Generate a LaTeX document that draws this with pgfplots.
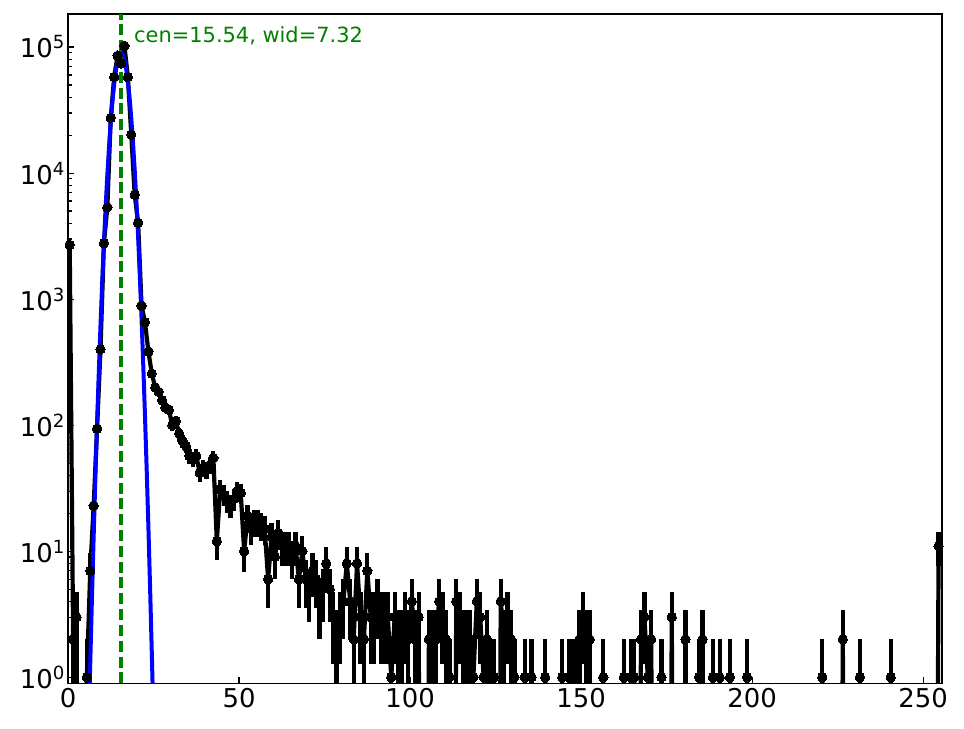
\documentclass[border=0pt]{standalone}
\usepackage{fontspec}
\setmainfont{DejaVu Sans}
\usepackage{pgfplots}
\pgfplotsset{compat=1.18}
\usepackage{pgfplotstable}
\definecolor{mplgreen}{rgb}{0,0.5,0}
\definecolor{mplblue}{rgb}{0,0,1}

\pgfplotstableread[row sep=\\]{
x n \\
0.5 2700 \\ 1.5 2 \\ 2.5 3 \\ 3.5 0 \\ 4.5 0 \\ 5.5 1 \\ 6.5 7 \\ 7.5 23 \\ 8.5 94 \\ 9.5 400 \\
10.5 2780 \\ 11.5 5350 \\ 12.5 27500 \\ 13.5 58000 \\ 14.5 85500 \\ 15.5 74300 \\ 16.5 102000 \\ 17.5 57800 \\ 18.5 20200 \\ 19.5 6740 \\
20.5 4040 \\ 21.5 888 \\ 22.5 655 \\ 23.5 385 \\ 24.5 257 \\ 25.5 199 \\ 26.5 184 \\ 27.5 158 \\ 28.5 138 \\ 29.5 132 \\
30.5 100 \\ 31.5 108 \\ 32.5 86 \\ 33.5 75 \\ 34.5 68 \\ 35.5 57 \\ 36.5 54 \\ 37.5 57 \\ 38.5 42 \\ 39.5 46 \\
40.5 44 \\ 41.5 48 \\ 42.5 55 \\ 43.5 12 \\ 44.5 31 \\ 45.5 28 \\ 46.5 25 \\ 47.5 23 \\ 48.5 26 \\ 49.5 30 \\
50.5 29 \\ 51.5 10 \\ 52.5 19 \\ 53.5 15 \\ 54.5 17 \\ 55.5 17 \\ 56.5 16 \\ 57.5 15 \\ 58.5 6 \\ 59.5 13 \\
60.5 9 \\ 61.5 14 \\ 62.5 11 \\ 63.5 11 \\ 64.5 11 \\ 65.5 9 \\ 66.5 11 \\ 67.5 6 \\ 68.5 10 \\ 69.5 6 \\
70.5 5 \\ 71.5 7 \\ 72.5 6 \\ 73.5 4 \\ 74.5 5 \\ 75.5 8 \\ 76.5 5 \\ 77.5 3 \\ 78.5 2 \\ 79.5 3 \\
80.5 4 \\ 81.5 8 \\ 82.5 4 \\ 83.5 2 \\ 84.5 8 \\ 85.5 3 \\ 86.5 2 \\ 87.5 7 \\ 88.5 3 \\ 89.5 3 \\
90.5 4 \\ 91.5 3 \\ 92.5 3 \\ 93.5 3 \\ 94.5 1 \\ 95.5 3 \\ 96.5 2 \\ 97.5 2 \\ 98.5 3 \\ 99.5 2 \\
100.5 4 \\ 101.5 2 \\ 102.5 3 \\ 103.5 0 \\ 104.5 0 \\ 105.5 2 \\ 106.5 2 \\ 107.5 2 \\ 108.5 4 \\ 109.5 3 \\
110.5 2 \\ 111.5 1 \\ 112.5 0 \\ 113.5 4 \\ 114.5 3 \\ 115.5 2 \\ 116.5 2 \\ 117.5 2 \\ 118.5 1 \\ 119.5 4 \\
120.5 3 \\ 121.5 1 \\ 122.5 2 \\ 123.5 1 \\ 124.5 1 \\ 125.5 0 \\ 126.5 4 \\ 127.5 2 \\ 128.5 3 \\ 129.5 2 \\
130.5 1 \\ 131.5 0 \\ 132.5 0 \\ 133.5 1 \\ 134.5 0 \\ 135.5 1 \\ 136.5 0 \\ 137.5 0 \\ 138.5 0 \\ 139.5 1 \\
140.5 0 \\ 141.5 0 \\ 142.5 0 \\ 143.5 0 \\ 144.5 1 \\ 145.5 0 \\ 146.5 1 \\ 147.5 1 \\ 148.5 1 \\ 149.5 2 \\
150.5 3 \\ 151.5 2 \\ 152.5 2 \\ 153.5 0 \\ 154.5 0 \\ 155.5 0 \\ 156.5 1 \\ 157.5 0 \\ 158.5 0 \\ 159.5 0 \\
160.5 0 \\ 161.5 0 \\ 162.5 1 \\ 163.5 0 \\ 164.5 1 \\ 165.5 1 \\ 166.5 0 \\ 167.5 2 \\ 168.5 3 \\ 169.5 1 \\
170.5 2 \\ 171.5 0 \\ 172.5 0 \\ 173.5 1 \\ 174.5 0 \\ 175.5 0 \\ 176.5 3 \\ 177.5 0 \\ 178.5 0 \\ 179.5 0 \\
180.5 2 \\ 181.5 0 \\ 182.5 0 \\ 183.5 0 \\ 184.5 1 \\ 185.5 2 \\ 186.5 0 \\ 187.5 0 \\ 188.5 1 \\ 189.5 0 \\
190.5 1 \\ 191.5 0 \\ 192.5 0 \\ 193.5 1 \\ 194.5 0 \\ 195.5 0 \\ 196.5 0 \\ 197.5 0 \\ 198.5 1 \\ 199.5 0 \\
200.5 0 \\ 201.5 0 \\ 202.5 0 \\ 203.5 0 \\ 204.5 0 \\ 205.5 0 \\ 206.5 0 \\ 207.5 0 \\ 208.5 0 \\ 209.5 0 \\
210.5 0 \\ 211.5 0 \\ 212.5 0 \\ 213.5 0 \\ 214.5 0 \\ 215.5 0 \\ 216.5 0 \\ 217.5 0 \\ 218.5 0 \\ 219.5 0 \\
220.5 1 \\ 221.5 0 \\ 222.5 0 \\ 223.5 0 \\ 224.5 0 \\ 225.5 0 \\ 226.5 2 \\ 227.5 0 \\ 228.5 0 \\ 229.5 0 \\
230.5 0 \\ 231.5 1 \\ 232.5 0 \\ 233.5 0 \\ 234.5 0 \\ 235.5 0 \\ 236.5 0 \\ 237.5 0 \\ 238.5 0 \\ 239.5 0 \\
240.5 1 \\ 241.5 0 \\ 242.5 0 \\ 243.5 0 \\ 244.5 0 \\ 245.5 0 \\ 246.5 0 \\ 247.5 0 \\ 248.5 0 \\ 249.5 0 \\
250.5 0 \\ 251.5 0 \\ 252.5 0 \\ 253.5 0 \\ 254.5 11 \\
}\hist

\pgfplotstableread[row sep=\\]{
x f \\
5.0 0.023 \\ 5.5 0.094 \\ 6.0 0.359 \\ 6.5 1.28 \\ 7.0 4.24 \\ 7.5 13.1 \\ 8.0 38.2 \\ 8.5 103 \\ 9.0 261 \\ 9.5 617 \\
10.0 1359 \\ 10.5 2801 \\ 11.0 5387 \\ 11.5 9677 \\ 12.0 16250 \\ 12.5 25470 \\ 13.0 37280 \\ 13.5 50970 \\ 14.0 65100 \\ 14.5 77640 \\
15.0 86480 \\ 15.54 90000 \\ 16.0 87440 \\ 16.5 79350 \\ 17.0 67270 \\ 17.5 53250 \\ 18.0 39370 \\ 18.5 27190 \\ 19.0 17540 \\ 19.5 10570 \\
20.0 5945 \\ 20.5 3123 \\ 21.0 1533 \\ 21.5 702.6 \\ 22.0 300.9 \\ 22.5 120.3 \\ 23.0 44.9 \\ 23.5 15.7 \\ 24.0 5.10 \\ 24.5 1.56 \\
25.0 0.44 \\ 25.5 0.117 \\ 26.0 0.029 \\
}\fit

\begin{document}
\begin{tikzpicture}
\begin{axis}[
  scale only axis,
  width=874bp, height=669.3bp,
  ymode=log,
  xmin=0, xmax=255.5,
  ymin=0.896, ymax=1.83e5,
  axis line style={line width=1.6bp, black},
  tick align=inside,
  tick pos=left,
  major tick length=6bp,
  minor tick length=4bp,
  tick style={line width=1.2bp, black},
  xtick={0,50,100,150,200,250},
  xticklabels={0,50,100,150,200,250},
  ytick={1,10,100,1000,10000,100000},
  yticklabels={10\textsuperscript{0},10\textsuperscript{1},10\textsuperscript{2},10\textsuperscript{3},10\textsuperscript{4},10\textsuperscript{5}},
  minor ytick={2,3,4,5,6,7,8,9,20,30,40,50,60,70,80,90,200,300,400,500,600,700,800,900,2000,3000,4000,5000,6000,7000,8000,9000,20000,30000,40000,50000,60000,70000,80000,90000},
  xticklabel style={font=\fontsize{26}{31}\selectfont, anchor=north, inner sep=0pt, yshift=-4.7bp},
  yticklabel style={font=\fontsize{26}{31}\selectfont, anchor=east, inner sep=0pt, xshift=-3bp},
]
\addplot[black, line width=4.2bp, line join=round, mark=*, mark size=4.7bp,
  mark options={solid, fill=black, draw=black, line width=0pt},
  error bars/.cd, y dir=both, y explicit, error mark=none,
  error bar style={line width=4.2bp, black}]
  table[x=x, y expr={max(\thisrow{n},1e-5)},
        y error plus expr={sqrt(\thisrow{n})},
        y error minus expr={min(sqrt(\thisrow{n}),\thisrow{n}-1e-5)}] {\hist};
\addplot[mplblue, line width=4bp, no marks, line join=round] table[x=x, y=f] {\fit};
\addplot[mplgreen, line width=3.4bp, no marks, dash pattern=on 11bp off 4.8bp] coordinates {(15.54,0.896) (15.54,1.83e5)};
\node[anchor=base west, inner sep=0pt, text=mplgreen, font=\fontsize{21}{25}\selectfont] at (axis cs:19.3,1.09e5) {cen=15.54, wid=7.32};
\coordinate (bl) at (rel axis cs:0,0);
\coordinate (tr) at (rel axis cs:1,1);
\end{axis}
\pgfresetboundingbox
\useasboundingbox ([shift={(-68bp,-45.7bp)}]bl) rectangle ([shift={(22bp,14bp)}]tr);
\end{tikzpicture}
\end{document}
